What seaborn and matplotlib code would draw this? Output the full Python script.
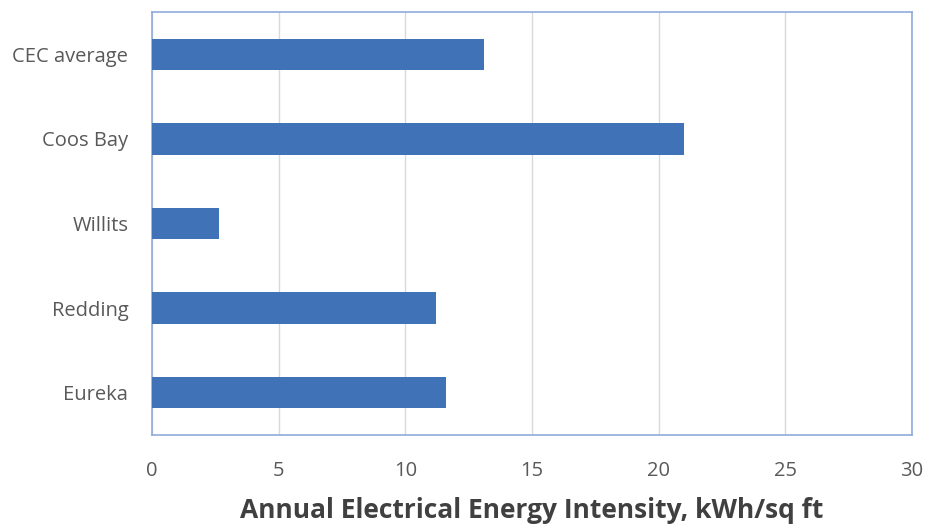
import matplotlib
matplotlib.use("Agg")
import matplotlib.pyplot as plt
import seaborn as sns
import pandas as pd

# Annual electrical energy intensity by site
sites = ["CEC average", "Coos Bay", "Willits", "Redding", "Eureka"]
intensity = [13.1, 21.0, 2.65, 11.2, 11.6]
x_ticks = [0, 5, 10, 15, 20, 25, 30]

df = pd.DataFrame({"site": sites, "intensity": intensity})

sns.set_theme(style="white")
plt.rcParams["font.family"] = ["Open Sans", "DejaVu Sans"]

fig = plt.figure(figsize=(9.29, 5.25), dpi=100)
ax = fig.add_axes([0.1636, 0.1714, 0.8181, 0.8057])

sns.barplot(data=df, x="intensity", y="site", order=sites, orient="h",
            color="#4072B8", saturation=1, width=0.37, linewidth=0,
            ax=ax, zorder=3)

ax.set_xlim(0, 30)
ax.set_ylim(4.5, -0.5)
ax.set_xticks(x_ticks)
ax.set_xticklabels([str(t) for t in x_ticks])
ax.xaxis.grid(True, color="#D9D9D9", linewidth=1.0, zorder=0)
ax.yaxis.grid(False)

for s in ax.spines.values():
    s.set_visible(True)
    s.set_color("#8FAADC")
    s.set_linewidth(1.2)

ax.tick_params(axis="both", length=0, labelsize=14.5, labelcolor="#595959")
ax.tick_params(axis="x", pad=18.5)
ax.tick_params(axis="y", pad=17)
ax.set_ylabel("")
ax.set_xlabel("Annual Electrical Energy Intensity, kWh/sq ft",
              fontsize=19, fontweight="bold", color="#404040", labelpad=12)

fig.savefig("out.png", dpi=100)
